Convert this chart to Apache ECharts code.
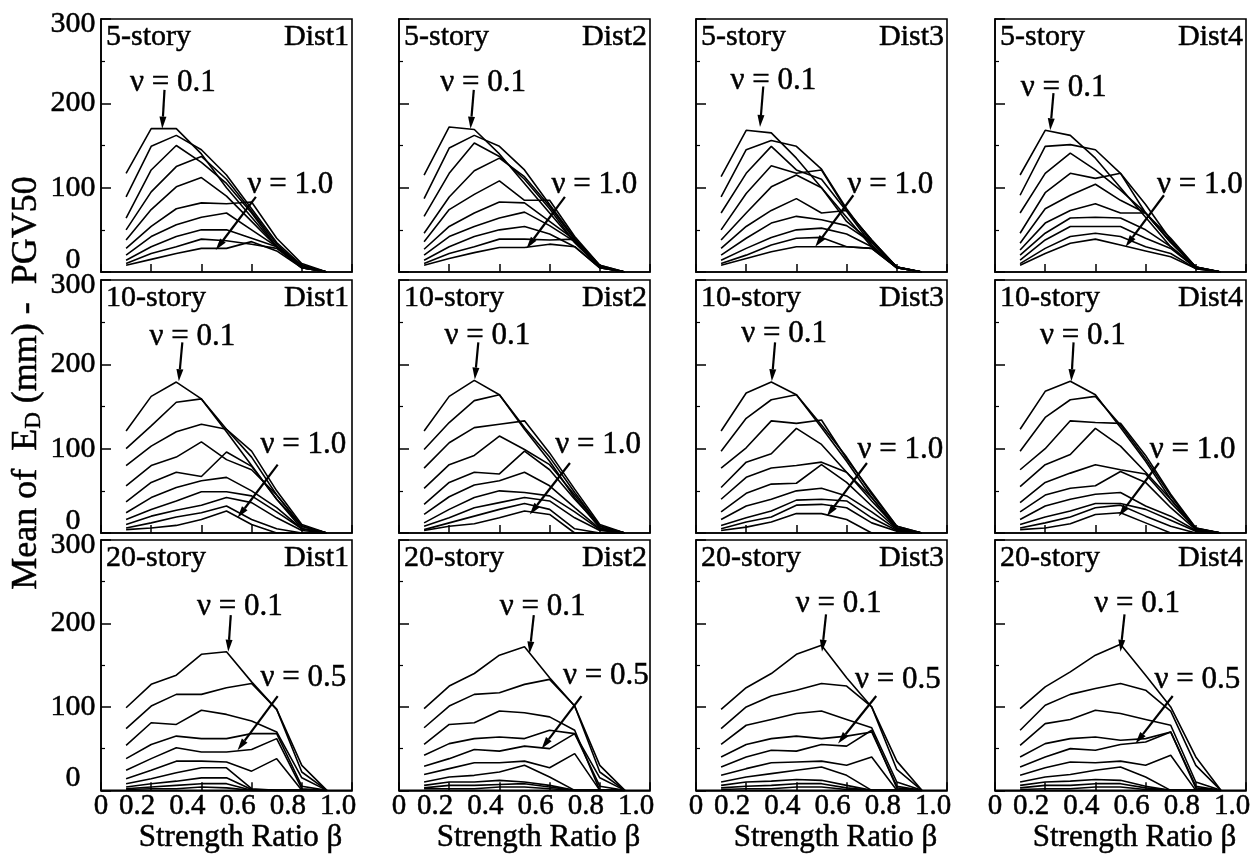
<!DOCTYPE html>
<html>
<head>
<meta charset="utf-8">
<script src="https://cdn.jsdelivr.net/npm/echarts@6/dist/echarts.min.js"></script>
<style>html,body{margin:0;padding:0;background:#fff}#main{width:1255px;height:855px}</style>
</head>
<body>
<div id="main"></div>
<script>
// strength ratio values where every curve is sampled
var betas = [0.1, 0.2, 0.3, 0.4, 0.5, 0.6, 0.7, 0.8, 0.9];
var stories = ['5-story', '10-story', '20-story'];
var dists = ['Dist1', 'Dist2', 'Dist3', 'Dist4'];
var xTicks = ['0', '0.2', '0.4', '0.6', '0.8', '1.0'];
var topNote = 'ν = 0.1';
var lowNotes = ['ν = 1.0', 'ν = 1.0', 'ν = 0.5'];

// mean E_D (mm), one row per nu = 0.1 ... 1.0
var s5d1 = [
  [117,170,170,140,100,65,30,5,0],
  [89,149,162,145,115,75,35,8,0],
  [64,121,150,130,105,70,30,5,0],
  [50,95,125,137,110,72,33,6,0],
  [38,74,101,112,90,60,30,8,0],
  [28,54,75,82,81,83,40,10,0],
  [20,42,56,65,70,50,30,8,0],
  [14,30,42,50,50,40,30,6,0],
  [10,22,30,39,37,33,28,5,0],
  [8,15,22,28,28,36,25,5,0]
];
var s5d2 = [
  [115,172,169,140,105,70,35,5,0],
  [87,147,162,149,121,80,40,8,0],
  [66,117,153,137,110,75,35,6,0],
  [46,89,120,135,113,78,38,6,0],
  [36,74,92,108,85,85,42,8,0],
  [27,54,70,83,82,60,38,6,0],
  [20,42,54,64,71,55,36,6,0],
  [14,30,42,50,54,45,30,5,0],
  [10,22,30,39,39,38,39,6,0],
  [8,16,23,29,29,33,30,5,0]
];
var s5d3 = [
  [113,168,165,135,100,65,30,5,0],
  [89,145,156,149,122,75,35,6,0],
  [70,117,149,121,110,72,32,5,0],
  [50,93,126,117,121,73,38,6,0],
  [38,70,101,115,100,60,35,6,0],
  [28,54,73,87,70,73,38,6,0],
  [20,40,58,66,62,55,35,6,0],
  [14,28,41,50,52,45,30,5,0],
  [10,20,32,40,41,30,28,5,0],
  [8,16,24,30,30,30,28,5,0]
];
var s5d4 = [
  [115,168,162,135,100,65,30,5,0],
  [91,149,151,145,117,80,38,6,0],
  [70,117,141,121,97,70,35,5,0],
  [46,94,117,111,117,70,36,6,0],
  [34,75,91,104,85,70,35,6,0],
  [26,58,73,81,70,70,40,6,0],
  [20,46,64,65,64,50,30,5,0],
  [14,38,54,54,54,40,28,5,0],
  [10,28,42,46,42,30,22,4,0],
  [8,22,34,39,32,25,18,4,0]
];
var s10d1 = [
  [121,162,179,159,120,80,40,5,0],
  [100,127,155,159,123,90,45,8,0],
  [80,103,120,129,123,97,50,10,0],
  [56,80,90,108,87,75,45,8,0],
  [37,60,72,67,96,79,40,8,0],
  [24,42,54,62,66,50,30,5,0],
  [16,28,38,49,49,44,25,5,0],
  [10,20,27,33,42,36,18,3,0],
  [6,12,19,24,32,16,5,0,0],
  [4,6,9,16,26,10,0,0,0]
];
var s10d2 = [
  [121,162,181,164,123,85,42,6,0],
  [99,131,157,164,125,90,48,8,0],
  [77,107,125,129,133,95,52,10,0],
  [53,81,92,115,99,81,45,8,0],
  [34,60,72,70,97,75,40,8,0],
  [22,43,57,62,72,56,30,5,0],
  [12,28,42,50,48,44,25,4,0],
  [8,18,30,36,42,38,18,3,0],
  [4,12,20,28,35,28,5,0,0],
  [3,8,11,18,26,22,0,0,0]
];
var s10d3 = [
  [121,166,179,164,125,85,42,5,0],
  [97,136,158,164,128,90,46,8,0],
  [77,101,133,130,134,88,48,8,0],
  [54,84,94,124,105,72,42,6,0],
  [40,66,77,80,84,72,38,6,0],
  [25,47,58,59,81,60,32,5,0],
  [16,32,40,50,53,44,25,4,0],
  [9,18,26,39,40,38,18,3,0],
  [5,13,19,33,34,30,12,2,0],
  [3,7,13,23,23,16,0,0,0]
];
var s10d4 = [
  [123,168,180,164,125,85,40,5,0],
  [97,137,158,162,128,88,44,6,0],
  [75,100,133,131,130,92,46,6,0],
  [55,81,93,124,103,72,40,5,0],
  [36,60,71,81,75,70,36,5,0],
  [25,45,53,56,73,60,30,4,0],
  [16,32,40,46,48,32,20,3,0],
  [10,19,26,35,35,28,15,2,0],
  [6,12,19,30,33,20,8,0,0],
  [4,6,11,22,24,12,0,0,0]
];
var s20d1 = [
  [99,127,138,163,166,130,97,30,0],
  [74,101,115,115,123,128,97,22,0],
  [54,81,79,96,91,83,70,15,0],
  [38,55,65,62,62,68,68,5,0],
  [24,38,51,46,46,49,62,2,0],
  [14,24,35,35,34,23,38,0,0],
  [8,14,21,27,27,2,0,0,0],
  [4,8,11,15,15,1,0,0,0],
  [2,4,6,8,8,0,0,0,0],
  [1,2,2,4,3,0,0,0,0]
];
var s20d2 = [
  [98,125,140,162,172,135,101,30,0],
  [75,101,115,117,127,133,101,22,0],
  [55,79,81,95,93,88,72,0,0],
  [42,56,62,64,62,72,68,15,0],
  [29,38,49,47,53,50,68,5,0],
  [19,26,33,33,35,27,44,0,0],
  [10,16,18,22,30,16,0,0,0],
  [6,10,10,12,10,6,0,0,0],
  [3,6,6,7,8,4,0,0,0],
  [2,2,2,4,4,2,0,0,0]
];
var s20d3 = [
  [97,123,140,163,174,135,100,35,0],
  [74,100,113,120,128,125,100,25,0],
  [55,78,85,92,95,85,75,10,0],
  [40,55,62,65,62,65,70,5,0],
  [28,40,48,47,55,53,72,3,0],
  [18,26,33,34,35,30,40,0,0],
  [10,16,20,24,28,18,0,0,0],
  [6,10,11,13,12,6,0,0,0],
  [3,5,6,8,8,3,0,0,0],
  [1,2,2,4,4,1,0,0,0]
];
var s20d4 = [
  [98,124,142,162,175,138,100,40,0],
  [72,102,115,122,128,120,95,30,0],
  [54,80,85,96,92,85,78,10,0],
  [40,56,62,64,60,62,70,5,0],
  [28,40,50,48,55,58,70,3,0],
  [18,27,34,33,35,30,42,0,0],
  [10,16,19,24,28,16,0,0,0],
  [6,10,11,13,12,5,0,0,0],
  [3,6,6,8,8,3,0,0,0],
  [1,2,2,4,4,1,0,0,0]
];
var panels = [
  [s5d1, s5d2, s5d3, s5d4],
  [s10d1, s10d2, s10d3, s10d4],
  [s20d1, s20d2, s20d3, s20d4]
];

// annotation placement in data units: [labelX, labelY, arrowFromX, arrowFromY, arrowToX, arrowToY]
var topArrows = [
  [[0.286,224,0.253,216,0.244,170],[0.335,224,0.298,216,0.285,170],[0.308,227,0.268,220,0.255,172],[0.273,218,0.233,212,0.22,168]],
  [[0.364,232,0.324,226,0.31,180],[0.352,234,0.316,226,0.302,182],[0.351,236,0.315,226,0.302,180],[0.35,234,0.313,226,0.304,180]],
  [[0.553,220,0.517,210,0.507,166],[0.572,220,0.537,210,0.52,164],[0.568,224,0.518,211,0.502,166],[0.566,224,0.516,211,0.5,166]]
];
var lowArrows = [
  [[0.754,103,0.617,89,0.457,26],[0.778,103,0.661,89,0.508,28],[0.774,103,0.627,91,0.475,30],[0.816,103,0.673,91,0.52,30]],
  [[0.806,105,0.704,81,0.544,18],[0.793,105,0.681,83,0.521,22],[0.814,99,0.681,83,0.521,20],[0.787,99,0.653,83,0.493,20]],
  [[0.806,135,0.704,113,0.544,48],[0.824,137,0.727,113,0.568,50],[0.804,133,0.718,113,0.566,56],[0.806,133,0.708,113,0.56,56]]
];

var FONT = '"Liberation Serif", "Times New Roman", serif';
var colLeft = [101, 399, 696, 995];
var rowTop = [19, 280, 540];
var gw = 251, gh = 253;

function txt(size, extra) {
  var o = { fontFamily: FONT, fontSize: size, color: '#000', textBorderColor: '#000', textBorderWidth: 0.5 };
  for (var k in extra) o[k] = extra[k];
  return o;
}

var chart = echarts.init(document.getElementById('main'));
var grids = [], xAxes = [], yAxes = [], series = [];

for (var r = 0; r < 3; r++) {
  for (var c = 0; c < 4; c++) {
    var gi = r * 4 + c;
    grids.push({
      left: colLeft[c], top: rowTop[r], width: gw, height: gh,
      show: true, borderColor: '#000', borderWidth: 1.6, backgroundColor: '#fff'
    });
    xAxes.push({
      gridIndex: gi, type: 'value', min: 0, max: 1, interval: 0.2,
      axisLine: { show: true, lineStyle: { color: '#000', width: 1.6 } },
      axisTick: { show: true, inside: true, length: 8, lineStyle: { color: '#000', width: 1.5 } },
      splitLine: { show: false },
      axisLabel: {
        show: r === 2, margin: 2, color: '#000', fontFamily: FONT, fontSize: 29,
        formatter: function (v) {
          var t = xTicks[Math.round(v / 0.2)];
          return v === 0 ? '{z|' + t + '}' : '{s|' + t + '}';
        },
        rich: {
          z: txt(29),
          s: txt(29, { padding: [0, 28, 0, 0] })
        }
      },
      name: r === 2 ? 'Strength Ratio β' : '',
      nameLocation: 'middle', nameGap: 29,
      nameTextStyle: txt(31, { padding: [0, 0, 0, 28] })
    });
    yAxes.push({
      gridIndex: gi, type: 'value', min: 0, max: 300, interval: 100,
      axisLine: { show: true, lineStyle: { color: '#000', width: 1.6 } },
      axisTick: { show: true, inside: true, length: 10, lineStyle: { color: '#000', width: 1.5 } },
      minorTick: { show: true, splitNumber: 2, length: 4, lineStyle: { color: '#000', width: 1.2 } },
      splitLine: { show: false },
      axisLabel: {
        show: c === 0, margin: 28, align: 'center', color: '#000', fontFamily: FONT, fontSize: 30,
        formatter: function (v) {
          if (v === 0) return '{lo|0}';
          if (v === 300) return '{hi|300}';
          return '{m|' + v + '}';
        },
        rich: {
          lo: txt(30, { padding: [0, 0, 24, 0] }),
          hi: txt(30, { padding: [10, 0, 0, 0] }),
          m: txt(30)
        }
      }
    });
    panels[r][c].forEach(function (vals) {
      series.push({
        type: 'line', xAxisIndex: gi, yAxisIndex: gi,
        data: betas.map(function (b, k) { return [b, vals[k]]; }),
        symbol: 'none', silent: true, clip: true,
        lineStyle: { color: '#000', width: 1.6 }
      });
    });
  }
}

chart.setOption({
  animation: false,
  backgroundColor: '#fff',
  grid: grids, xAxis: xAxes, yAxis: yAxes, series: series
});

// annotations
function arrow(p0, p1) {
  var dx = p1[0] - p0[0], dy = p1[1] - p0[1];
  var len = Math.sqrt(dx * dx + dy * dy);
  var ux = dx / len, uy = dy / len;
  var hl = 12, hw = 3.5;
  var bx = p1[0] - ux * hl, by = p1[1] - uy * hl;
  return [
    { type: 'line', silent: true, z: 100, shape: { x1: p0[0], y1: p0[1], x2: bx, y2: by }, style: { stroke: '#000', lineWidth: 2.2 } },
    { type: 'polygon', silent: true, z: 100, shape: { points: [[p1[0], p1[1]], [bx - uy * hw, by + ux * hw], [bx + uy * hw, by - ux * hw]] }, style: { fill: '#000' } }
  ];
}
function label(p, t, size, align) {
  return { type: 'text', silent: true, z: 100, x: p[0], y: p[1],
    style: { text: t, fill: '#000', stroke: '#000', lineWidth: 0.5, fontFamily: FONT, fontSize: size,
      align: align || 'center', verticalAlign: 'middle' } };
}

var gfx = [];
for (var r2 = 0; r2 < 3; r2++) {
  for (var c2 = 0; c2 < 4; c2++) {
    var g = r2 * 4 + c2;
    gfx.push(label([colLeft[c2] + 5, rowTop[r2] + 18], stories[r2], 30, 'left'));
    gfx.push(label([colLeft[c2] + gw - 3, rowTop[r2] + 18], dists[c2], 30, 'right'));
    [[topArrows, topNote], [lowArrows, lowNotes[r2]]].forEach(function (pair) {
      var a = pair[0][r2][c2];
      var pt = chart.convertToPixel({ gridIndex: g }, [a[0], a[1]]);
      var p0 = chart.convertToPixel({ gridIndex: g }, [a[2], a[3]]);
      var p1 = chart.convertToPixel({ gridIndex: g }, [a[4], a[5]]);
      gfx.push(label(pt, pair[1], 31));
      gfx = gfx.concat(arrow(p0, p1));
    });
  }
}
gfx.push({
  type: 'text', silent: true, x: 27, y: 383, rotation: Math.PI / 2,
  style: {
    text: '{a|Mean of  E}{s|D}{a| (mm) -  PGV50}',
    align: 'center', verticalAlign: 'middle', fill: '#000',
    rich: {
      a: { fontFamily: FONT, fontSize: 36, fill: '#000', stroke: '#000', lineWidth: 0.5 },
      s: { fontFamily: FONT, fontSize: 23, fill: '#000', stroke: '#000', lineWidth: 0.4, verticalAlign: 'bottom', padding: [14, 0, 0, 0] }
    }
  }
});
chart.setOption({ graphic: gfx });
</script>
</body>
</html>
